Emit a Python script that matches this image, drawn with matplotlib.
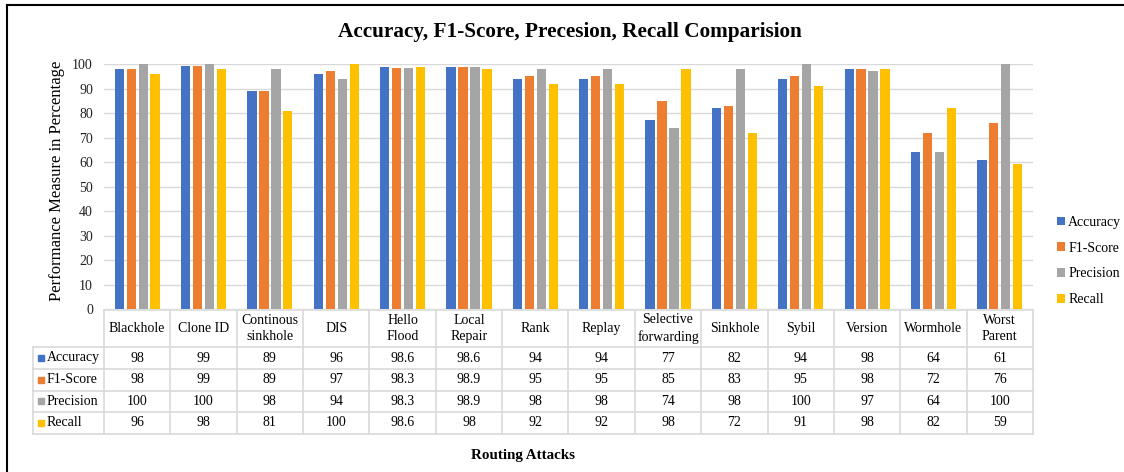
import matplotlib
matplotlib.use('Agg')
import matplotlib.pyplot as plt
from matplotlib.patches import Patch
from matplotlib.lines import Line2D
import numpy as np

attacks = ["Blackhole", "Clone ID", "Continous\nsinkhole", "DIS", "Hello\nFlood",
           "Local\nRepair", "Rank", "Replay", "Selective\nforwarding", "Sinkhole",
           "Sybil", "Version", "Wormhole", "Worst\nParent"]
accuracy = [98, 99, 89, 96, 98.6, 98.6, 94, 94, 77, 82, 94, 98, 64, 61]
f1_score = [98, 99, 89, 97, 98.3, 98.9, 95, 95, 85, 83, 95, 98, 72, 76]
precision = [100, 100, 98, 94, 98.3, 98.9, 98, 98, 74, 98, 100, 97, 64, 100]
recall = [96, 98, 81, 100, 98.6, 98, 92, 92, 98, 72, 91, 98, 82, 59]

series_names = ["Accuracy", "F1-Score", "Precision", "Recall"]
series_colors = ["#4472C4", "#ED7D31", "#A5A5A5", "#FFC000"]
series = [accuracy, f1_score, precision, recall]

plt.rcParams['font.family'] = ['Liberation Serif', 'DejaVu Serif']

W, H = 1124, 472
fig = plt.figure(figsize=(W / 100, H / 100), dpi=100)


def fx(px):
    return px / W


def fy(py):
    return 1 - py / H


# plot area in pixel terms
left_px, right_px, top_px, base_px = 104, 1033, 64, 309
ax = fig.add_axes([fx(left_px), fy(base_px), fx(right_px - left_px), (base_px - top_px) / H])

n = len(attacks)
x = np.arange(n)
step = 0.18
width = 0.14
for i, (name, vals, col) in enumerate(zip(series_names, series, series_colors)):
    ax.bar(x + (i - 1.5) * step, vals, width, color=col, label=name, zorder=3)

ax.set_xlim(-0.5, n - 0.5)
ax.set_ylim(0, 100)
ax.set_yticks(range(0, 101, 10))
ax.tick_params(axis='y', length=0, labelsize=10, pad=8, colors='#222222')
ax.set_xticks([])
ax.grid(axis='y', color='#d9d9d9', linewidth=1, zorder=0)
for s in ax.spines.values():
    s.set_visible(False)
fig.text(fx(57), fy(181), "Performance Measure in Percentage", rotation=90,
         ha='center', va='center', fontsize=12)

# data table underneath the plot
tbl_top, tbl_bot = 310, 434
tx = fig.add_axes([fx(left_px), fy(tbl_bot), fx(right_px - left_px), (tbl_bot - tbl_top) / H],
                  sharex=ax)
tx.set_ylim(tbl_bot, tbl_top)
tx.axis('off')

row_edges = [310, 347, 369, 390.5, 412, 434]
grid_c = '#d9d9d9'
unit = (right_px - left_px) / n
leg_x = (33 - left_px) / unit - 0.5

# horizontal rules
tx.plot([-0.5, n - 0.5], [row_edges[0]] * 2, color=grid_c, lw=1.2, clip_on=False)
for yv in row_edges[1:]:
    tx.plot([leg_x, n - 0.5], [yv, yv], color=grid_c, lw=1.2, clip_on=False)
# vertical rules
for k in range(n + 1):
    tx.plot([k - 0.5] * 2, [row_edges[0], row_edges[-1]], color=grid_c, lw=1.2, clip_on=False)
tx.plot([leg_x] * 2, [row_edges[1], row_edges[-1]], color=grid_c, lw=1.2, clip_on=False)

for k, lab in enumerate(attacks):
    tx.text(k, (row_edges[0] + row_edges[1]) / 2, lab, ha='center', va='center',
            fontsize=10, linespacing=1.3, clip_on=False)

for r, (name, vals, col) in enumerate(zip(series_names, series, series_colors)):
    yc = (row_edges[r + 1] + row_edges[r + 2]) / 2
    tx.plot([(41 - left_px) / unit - 0.5], [yc], marker='s', ms=5, color=col,
            linestyle='none', clip_on=False)
    tx.text((47 - left_px) / unit - 0.5, yc, name, ha='left', va='center', fontsize=10,
            clip_on=False)
    for k, v in enumerate(vals):
        tx.text(k, yc, f"{v:g}", ha='center', va='center', fontsize=10, clip_on=False)

# legend
handles = [Patch(facecolor=c, edgecolor='none', label=nm) for nm, c in zip(series_names, series_colors)]
ax.legend(handles=handles, loc='center left', bbox_to_anchor=(fx(1057), fy(261)),
          bbox_transform=fig.transFigure, frameon=False, fontsize=10,
          handlelength=0.6, handleheight=0.6, handletextpad=0.2, labelspacing=0.92,
          borderaxespad=0, borderpad=0)

fig.text(fx(570), fy(32), "Accuracy, F1-Score, Precesion, Recall Comparision",
         ha='center', va='center', fontsize=15.3, fontweight='bold')
fig.text(fx(523), fy(455), "Routing Attacks", ha='center', va='center',
         fontsize=10.8, fontweight='bold')

# chart frame
fig.add_artist(Line2D([fx(7), 1], [fy(5), fy(5)], color='black', lw=1.5))
fig.add_artist(Line2D([fx(7), fx(7)], [fy(5), 0], color='black', lw=1.5))

fig.savefig("out.png", dpi=100)
